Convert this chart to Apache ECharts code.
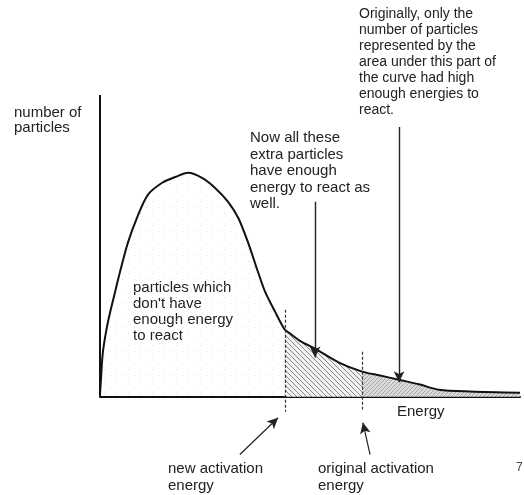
<!DOCTYPE html>
<html>
<head>
<meta charset="utf-8">
<title>Activation energy and the energy distribution</title>
<script src="https://cdn.jsdelivr.net/npm/echarts@6/dist/echarts.min.js"></script>
<style>
  html, body { margin: 0; padding: 0; background: #fff; }
  #chart { width: 524px; height: 495px; }
</style>
</head>
<body>
<div id="chart"></div>
<script>
// energy distribution curve (arbitrary units)
var energy = [0, 0.02, 0.07, 0.19, 0.36, 0.52, 0.67, 0.88, 1.14, 1.48, 1.79, 2.10,
  2.43, 2.74, 3.05, 3.29, 3.52, 3.76, 3.93, 4.17, 4.40, 4.50, 4.76, 5.12, 5.69,
  6.24, 6.67, 7.12, 7.62, 8.07, 8.81, 10];
var particles = [0.07, 0.50, 1.49, 2.48, 3.48, 4.37, 5.13, 5.93, 6.69, 7.09, 7.28, 7.42,
  7.25, 6.92, 6.46, 5.93, 5.13, 4.14, 3.48, 2.81, 2.22, 2.12, 1.85, 1.59, 1.13,
  0.83, 0.70, 0.56, 0.40, 0.23, 0.17, 0.13];

var newActivation = 4.40;
var originalActivation = 6.24;

// arrows: [from, to] in data units
var extraArrow = [[5.12, 6.46], [5.12, 1.30]];
var originalArrow = [[7.12, 8.94], [7.12, 0.48]];
var newActArrow = [[3.33, -1.92], [4.24, -0.70]];
var origActArrow = [[6.43, -1.92], [6.26, -0.86]];

var FONT = "Liberation Sans, Arial, sans-serif";

function pattern(size, draw) {
  var c = document.createElement("canvas");
  c.width = size;
  c.height = size;
  draw(c.getContext("2d"), size);
  return c;
}

var stipple = pattern(12, function(ctx) {
  ctx.fillStyle = "#dcdcdc";
  ctx.fillRect(2, 3, 1, 1);
  ctx.fillRect(8, 9, 1, 1);
});

var hatchMid = pattern(5, function(ctx, s) {
  ctx.fillStyle = "#f2f2f2";
  ctx.fillRect(0, 0, s, s);
  ctx.fillStyle = "#888";
  for (var i = 0; i < s; i++) {
    ctx.fillRect(i, i, 1, 1);
  }
});

var hatchRight = pattern(4, function(ctx, s) {
  ctx.fillStyle = "#dadada";
  ctx.fillRect(0, 0, s, s);
  ctx.fillStyle = "#a8a8a8";
  for (var i = 0; i < s; i++) {
    ctx.fillRect(s - 1 - i, i, 1, 1);
  }
});

function slice(from, to) {
  var out = [];
  for (var i = 0; i < energy.length; i++) {
    if (energy[i] >= from && energy[i] <= to) {
      out.push([energy[i], particles[i]]);
    }
  }
  return out;
}

function fillSeries(data, fill) {
  return {
    type: "line",
    data: data,
    smooth: 0.3,
    symbol: "none",
    silent: true,
    lineStyle: { width: 0 },
    areaStyle: { color: { image: fill, repeat: "repeat" }, opacity: 1, origin: 0 }
  };
}

function arrow(pair, width) {
  return [
    { coord: pair[0], symbol: "none", lineStyle: { color: "#222", width: width, type: "solid" } },
    { coord: pair[1], symbol: "arrow", symbolSize: [8, 11] }
  ];
}

function plainLine(from, to, style) {
  return [
    { coord: from, symbol: "none", lineStyle: style },
    { coord: to, symbol: "none" }
  ];
}

var curve = [];
for (var i = 0; i < energy.length; i++) {
  curve.push([energy[i], particles[i]]);
}

var dashed = { color: "#333", width: 1.2, type: [3, 2] };

var chart = echarts.init(document.getElementById("chart"), null, { renderer: "canvas" });

chart.setOption({
  animation: false,
  backgroundColor: "#fff",
  // y runs below zero so the marks under the energy axis stay inside the grid
  grid: { left: 100, right: 4, top: 95, bottom: 32 },
  xAxis: {
    type: "value",
    min: 0,
    max: 10,
    axisLine: { onZero: true, lineStyle: { color: "#111", width: 2 } },
    axisTick: { show: false },
    axisLabel: { show: false },
    splitLine: { show: false }
  },
  yAxis: {
    type: "value",
    min: -2.2,
    max: 10,
    axisLine: { show: false },
    axisTick: { show: false },
    axisLabel: { show: false },
    splitLine: { show: false }
  },
  series: [
    fillSeries(slice(0, newActivation), stipple),
    fillSeries(slice(newActivation, originalActivation), hatchMid),
    fillSeries(slice(originalActivation, 10), hatchRight),
    {
      type: "line",
      data: curve,
      smooth: 0.3,
      symbol: "none",
      silent: true,
      lineStyle: { color: "#111", width: 2 },
      markLine: {
        silent: true,
        animation: false,
        label: { show: false },
        emphasis: { disabled: true },
        data: [
          plainLine([0, 0], [0, 10], { color: "#111", width: 2, type: "solid" }),
          plainLine([newActivation, 2.88], [newActivation, -0.50], dashed),
          plainLine([originalActivation, 1.49], [originalActivation, -0.43], dashed),
          arrow(extraArrow, 1.4),
          arrow(originalArrow, 1.4),
          arrow(newActArrow, 1.2),
          arrow(origActArrow, 1.2)
        ]
      }
    }
  ],
  graphic: [
    {
      type: "text", x: 14, y: 106,
      style: { text: "number of\nparticles", font: "15px " + FONT, lineHeight: 14.5, fill: "#222" }
    },
    {
      type: "text", x: 359, y: 6,
      style: {
        text: "Originally, only the\nnumber of particles\nrepresented by the\narea under this part of\nthe curve had high\nenough energies to\nreact.",
        font: "14px " + FONT, lineHeight: 16, fill: "#222"
      }
    },
    {
      type: "text", x: 250, y: 130,
      style: {
        text: "Now all these\nextra particles\nhave enough\nenergy to react as\nwell.",
        font: "15px " + FONT, lineHeight: 16.5, fill: "#222"
      }
    },
    {
      type: "text", x: 133, y: 280,
      style: {
        text: "particles which\ndon't have\nenough energy\nto react",
        font: "15px " + FONT, lineHeight: 16, fill: "#222"
      }
    },
    {
      type: "text", x: 397, y: 404,
      style: { text: "Energy", font: "15px " + FONT, fill: "#222" }
    },
    {
      type: "text", x: 168, y: 460,
      style: { text: "new activation\nenergy", font: "15px " + FONT, lineHeight: 17, fill: "#222" }
    },
    {
      type: "text", x: 318, y: 460,
      style: { text: "original activation\nenergy", font: "15px " + FONT, lineHeight: 17, fill: "#222" }
    },
    {
      type: "text", x: 516, y: 462,
      style: { text: "7", font: "12px " + FONT, fill: "#444" }
    }
  ]
});
</script>
</body>
</html>
